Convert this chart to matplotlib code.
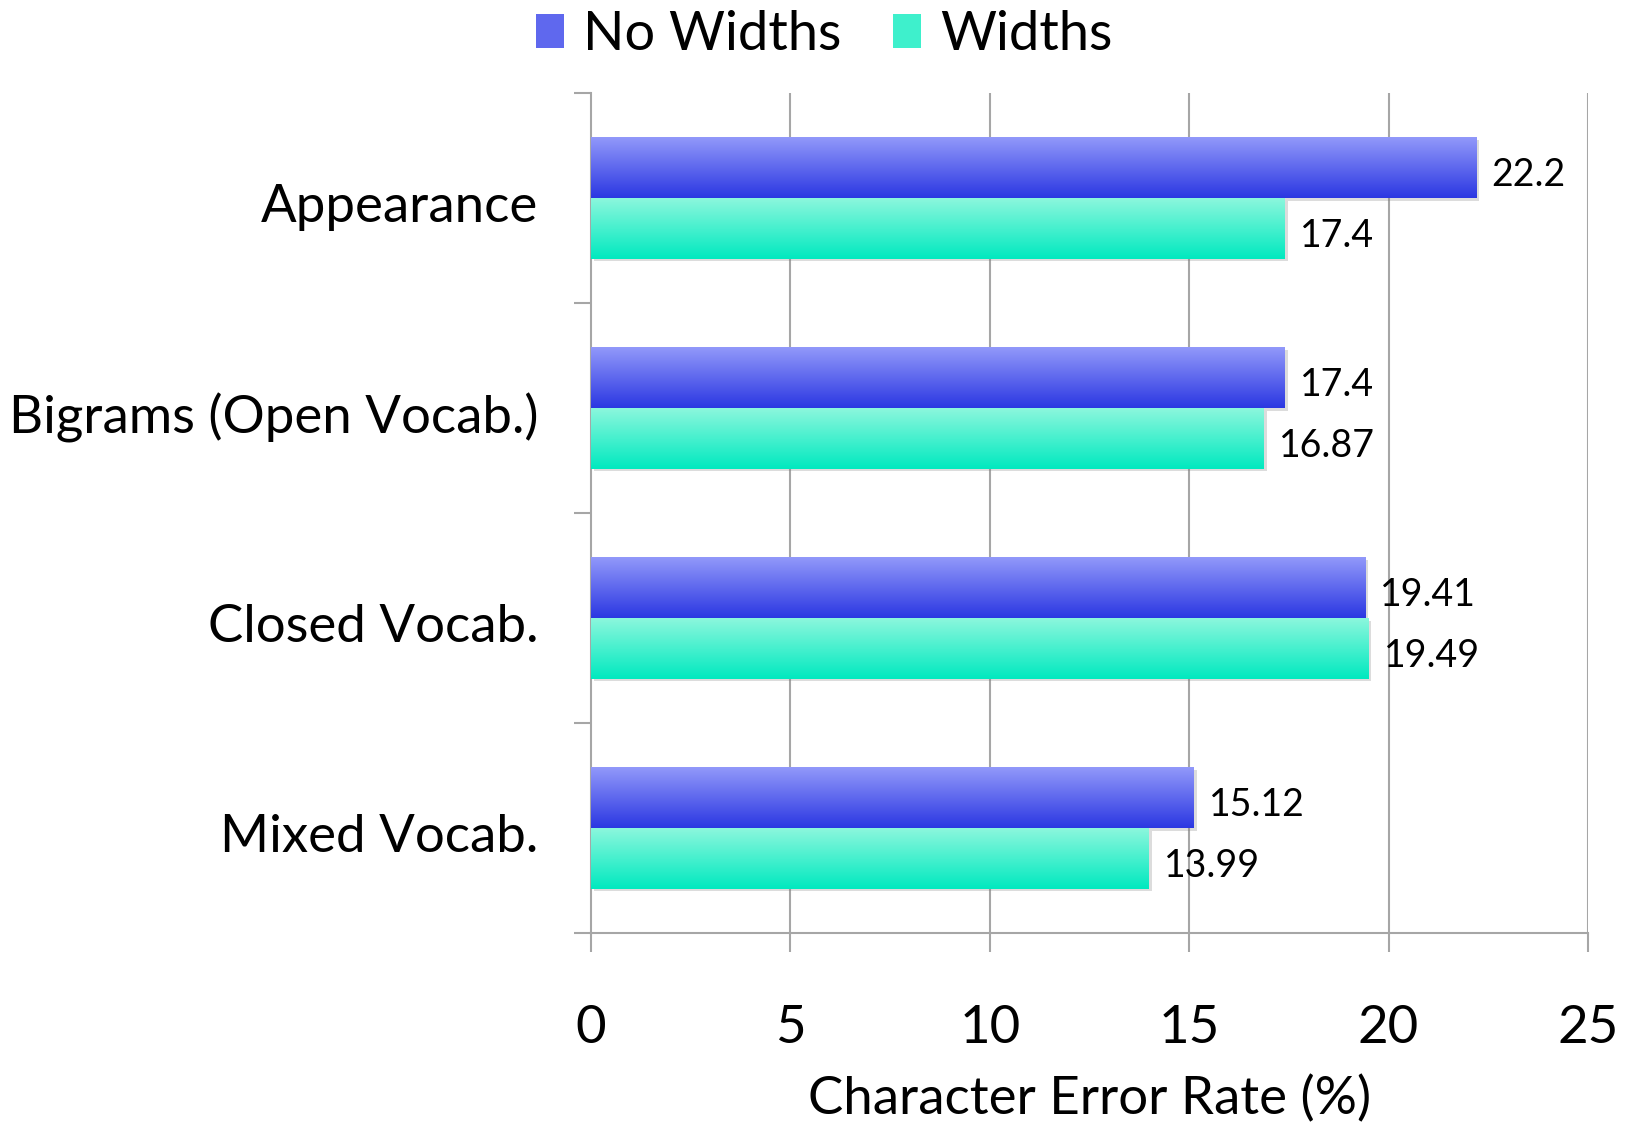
import numpy as np
import matplotlib
matplotlib.use("Agg")
import matplotlib.pyplot as plt
from matplotlib.colors import LinearSegmentedColormap
from matplotlib.patches import Patch
from matplotlib.transforms import ScaledTranslation
import matplotlib.patheffects as pe

plt.rcParams['font.family'] = ['Lato', 'DejaVu Sans']

categories = ["Appearance", "Bigrams (Open Vocab.)", "Closed Vocab.", "Mixed Vocab."]
no_widths = [22.2, 17.4, 19.41, 15.12]
widths = [17.4, 16.87, 19.49, 13.99]
no_widths_labels = ["22.2", "17.4", "19.41", "15.12"]
widths_labels = ["17.4", "16.87", "19.49", "13.99"]
series_names = ["No Widths", "Widths"]
xticks = [0, 5, 10, 15, 20, 25]

blue_top, blue_bot = "#9299fa", "#2b37e2"
green_top, green_bot = "#8cf7dd", "#00e9bf"

fig = plt.figure(figsize=(16.25, 11.33), dpi=100)
ax = fig.add_axes([0.3637, 0.1765, 0.6135, 0.7415])

n = len(categories)
ypos = np.arange(n)[::-1]
h = 0.289
grid_c = "#a6a6a6"

ax.set_xlim(0, 25)
ax.set_ylim(-0.5, n - 0.5)

for xt in xticks[1:]:
    ax.axvline(xt, color=grid_c, lw=1.5, zorder=0)

def grad_bars(vals, offs, top, bot):
    cmap = LinearSegmentedColormap.from_list("g", [bot, top])
    grad = np.linspace(0, 1, 256).reshape(-1, 1)
    bars = ax.barh(ypos + offs, vals, height=h, color=bot, zorder=2,
                   path_effects=[pe.SimplePatchShadow(offset=(2, -2), shadow_rgbFace="#777777", alpha=0.25), pe.Normal()])
    for b in bars:
        x0, y0 = b.get_x(), b.get_y()
        w, hh = b.get_width(), b.get_height()
        im = ax.imshow(grad, cmap=cmap, aspect="auto", origin="lower",
                       extent=[x0, x0 + w, y0, y0 + hh], zorder=3, interpolation="bicubic")
        im.set_clip_path(b)
    return bars

grad_bars(no_widths, h / 2, blue_top, blue_bot)
grad_bars(widths, -h / 2, green_top, green_bot)

ax.set_xlim(0, 25)
ax.set_ylim(-0.5, n - 0.5)

for y, v, lab in zip(ypos, no_widths, no_widths_labels):
    ax.annotate(lab, (v, y + h / 2), xytext=(11, -3), textcoords="offset points",
                va="center_baseline", ha="left", fontsize=27, zorder=5)
for y, v, lab in zip(ypos, widths, widths_labels):
    ax.annotate(lab, (v, y - h / 2), xytext=(11, -3), textcoords="offset points",
                va="center_baseline", ha="left", fontsize=27, zorder=5)

ax.set_yticks(ypos)
ax.set_yticklabels(categories, fontsize=38, va="center_baseline")
ax.set_yticks(np.arange(-0.5, n, 1.0), minor=True)
ax.tick_params(axis="y", which="major", length=0, pad=38)
ax.tick_params(axis="y", which="minor", length=12, width=1.5, color=grid_c)
for lab in ax.get_yticklabels():
    lab.set_transform(lab.get_transform() + ScaledTranslation(0, -0.05, fig.dpi_scale_trans))

ax.set_xticks(xticks)
ax.set_xticklabels([str(t) for t in xticks], fontsize=38)
ax.tick_params(axis="x", length=14, width=1.5, color=grid_c, pad=38)
ax.set_xlabel("Character Error Rate (%)", fontsize=38, labelpad=16)

for s in ["top", "right"]:
    ax.spines[s].set_visible(False)
for s in ["left", "bottom"]:
    ax.spines[s].set_color(grid_c)
    ax.spines[s].set_linewidth(1.5)

handles = [Patch(facecolor="#5f68ee", label=series_names[0]),
           Patch(facecolor="#3ef0cc", label=series_names[1])]
fig.legend(handles=handles, loc="upper center", bbox_to_anchor=(0.507, 1.034), ncol=2,
           frameon=False, fontsize=39, handlelength=0.52, handleheight=0.6,
           handletextpad=0.35, columnspacing=0.95)

fig.savefig("out.png", dpi=100)
